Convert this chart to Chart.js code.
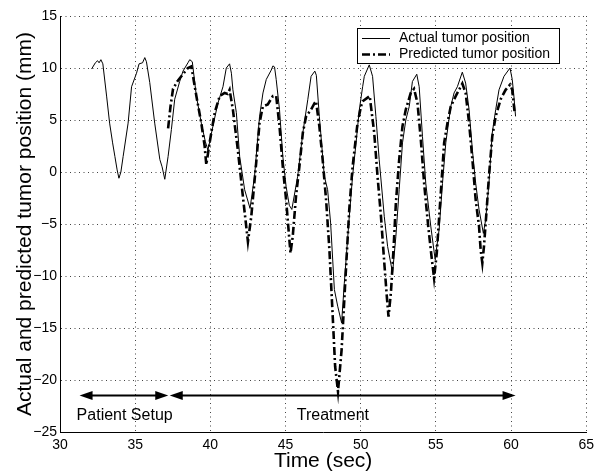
<!DOCTYPE html>
<html>
<head>
<meta charset="utf-8">
<script src="https://cdn.jsdelivr.net/npm/chart.js@4"></script>
<style>
  html, body { margin: 0; padding: 0; background: #fff; }
  #wrap { width: 599px; height: 476px; }
</style>
</head>
<body>
<div id="wrap"><canvas id="tumorChart" width="599" height="476"></canvas></div>
<script>
// Actual tumor position (time in sec, position in mm)
const actualTime = [32.10, 32.35, 32.50, 32.60, 32.72, 32.85, 33.10, 33.30, 33.50, 33.65, 33.80, 33.92, 34.05, 34.20, 34.53, 34.76,
    35.09, 35.26, 35.49, 35.64, 35.75, 35.97, 36.30, 36.64, 36.79, 36.97, 37.19, 37.41, 37.63, 37.96, 38.18, 38.51,
    38.63, 38.80, 39.07, 39.40, 39.67, 39.84, 40.17, 40.50, 40.84, 41.06, 41.28, 41.40, 41.50, 41.73, 41.95, 42.28,
    42.64, 42.94, 43.27, 43.50, 43.72, 44.05, 44.16, 44.27, 44.38, 44.60, 44.82, 45.04, 45.25, 45.42, 45.81, 46.15,
    46.48, 46.70, 46.95, 47.05, 47.25, 47.58, 47.80, 48.00, 48.25, 48.47, 48.73, 48.91, 49.24, 49.46, 49.69, 49.91,
    50.13, 50.24, 50.57, 50.79, 51.01, 51.23, 51.57, 51.79, 52.12, 52.34, 52.56, 52.78, 53.00, 53.23, 53.44, 53.73,
    53.89, 54.11, 54.33, 54.66, 54.95, 55.22, 55.44, 55.66, 55.99, 56.21, 56.43, 56.76, 56.98, 57.21, 57.43, 57.65,
    57.87, 58.16, 58.31, 58.53, 58.75, 58.98, 59.20, 59.53, 59.93, 60.08, 60.19, 60.30];
const actualPos = [9.9, 10.5, 10.7, 10.5, 10.8, 10.4, 7.3, 4.7, 2.8, 1.5, 0.2, -0.6, 0.0, 1.5, 4.7, 8.2,
    9.5, 10.4, 10.5, 11.0, 10.6, 8.6, 4.7, 1.2, 0.5, -0.7, 1.5, 4.1, 7.0, 8.7, 9.7, 10.5,
    10.8, 10.6, 7.3, 4.7, 2.9, 2.1, 4.4, 6.6, 8.2, 10.0, 10.4, 9.5, 7.9, 5.7, 1.5, -1.7,
    -3.5, -0.4, 5.3, 7.6, 8.9, 9.8, 10.2, 10.1, 8.9, 6.0, 1.5, -1.4, -3.2, -3.6, -0.4, 3.75,
    6.95, 9.2, 9.7, 9.3, 5.35, -0.4, -1.7, -4.9, -11.3, -12.9, -14.5, -10.7, -4.3, -0.4, 2.8, 6.0,
    8.2, 9.2, 10.3, 9.2, 5.35, 1.2, -4.3, -7.15, -9.7, -6.2, -1.7, 2.8, 5.0, 6.3, 8.7, 9.4,
    8.2, 3.4, -1.1, -5.2, -8.4, -5.5, -1.1, 2.8, 6.3, 7.6, 8.2, 9.6, 8.55, 6.0, 2.1, -1.1,
    -3.6, -5.9, -4.6, -1.1, 3.75, 6.0, 7.9, 9.2, 10.0, 8.9, 7.3, 5.35];

// Predicted tumor position
const predTime = [37.19, 37.35, 37.52, 37.80, 38.07, 38.51, 38.74, 39.07, 39.40, 39.62, 39.73, 39.95, 40.29, 40.62, 40.95, 41.15,
    41.28, 41.50, 41.83, 42.16, 42.50, 42.72, 43.05, 43.27, 43.49, 43.82, 44.16, 44.38, 44.60, 44.82, 45.04, 45.33,
    45.48, 45.70, 45.92, 46.15, 46.37, 46.70, 46.92, 47.03, 47.25, 47.47, 47.70, 47.92, 48.14, 48.30, 48.49, 48.73,
    48.91, 49.09, 49.24, 49.46, 49.79, 50.02, 50.13, 50.60, 50.90, 51.12, 51.35, 51.57, 51.74, 51.85, 52.01, 52.18,
    52.34, 52.56, 52.78, 53.00, 53.33, 53.55, 53.78, 54.00, 54.22, 54.49, 54.71, 54.88, 55.06, 55.22, 55.37, 55.55,
    55.77, 55.99, 56.32, 56.76, 56.98, 57.21, 57.43, 57.65, 57.87, 57.98, 58.09, 58.20, 58.38, 58.53, 58.75, 58.98,
    59.31, 59.64, 59.93, 60.08, 60.24];
const predPos = [4.2, 6.3, 8.0, 8.7, 9.2, 10.0, 10.15, 7.3, 4.7, 2.5, 0.7, 2.8, 5.7, 7.3, 7.6, 7.5,
    7.9, 6.0, 2.1, -2.3, -6.7, -4.3, 0.9, 4.7, 6.3, 6.5, 7.3, 7.3, 4.4, 0.5, -2.7, -7.8,
    -6.2, -2.3, 0.5, 3.75, 5.35, 6.0, 6.6, 6.8, 4.4, 1.2, -2.7, -7.5, -13.9, -18.7, -21.1, -17.1,
    -12.3, -7.5, -3.6, 0.5, 4.7, 6.3, 6.8, 7.3, 3.75, -0.4, -4.3, -8.75, -12.0, -13.9, -11.6, -7.5,
    -3.0, 1.2, 4.4, 6.0, 7.6, 8.0, 6.6, 3.1, -1.1, -5.2, -8.1, -10.2, -7.8, -4.3, -1.1, 2.8,
    4.7, 6.3, 7.3, 8.5, 7.6, 4.7, 1.2, -2.7, -5.2, -7.5, -8.75, -7.15, -3.6, -0.4, 3.4, 5.35,
    7.0, 7.9, 8.4, 7.9, 5.7];

const seriesLabels = ['Actual tumor position', 'Predicted tumor position'];

// Phase arrows (time spans) and their labels
const phaseNames = ['Patient Setup', 'Treatment'];
const phaseStart = [31.3, 37.3];
const phaseEnd = [37.2, 60.3];
const phaseArrowY = -21.5;
const phaseLabelX = [34.3, 48.15];
const phaseLabelY = -23.4;

const xTicks = [30, 35, 40, 45, 50, 55, 60, 65];
const yTicks = [-25, -20, -15, -10, -5, 0, 5, 10, 15];

const FONT = "'Liberation Sans', Arial, Helvetica, sans-serif";
const predDash = [8, 3, 2, 3];

function toPoints(xs, ys) {
    return xs.map((x, i) => ({ x: x, y: ys[i] }));
}

function arrowHead(ctx, x, y, dir) {
    // dir: -1 points left, 1 points right
    ctx.beginPath();
    ctx.moveTo(x, y);
    ctx.lineTo(x - dir * 13, y - 4.5);
    ctx.lineTo(x - dir * 13, y + 4.5);
    ctx.closePath();
    ctx.fill();
}

const annotationsPlugin = {
    id: 'annotations',
    afterDatasetsDraw(chart) {
        const ctx = chart.ctx;
        const xs = chart.scales.x;
        const ys = chart.scales.y;
        ctx.save();
        ctx.strokeStyle = '#000';
        ctx.fillStyle = '#000';
        ctx.lineWidth = 2;
        const ay = ys.getPixelForValue(phaseArrowY);
        phaseNames.forEach((name, i) => {
            const x1 = xs.getPixelForValue(phaseStart[i]);
            const x2 = xs.getPixelForValue(phaseEnd[i]);
            ctx.beginPath();
            ctx.moveTo(x1 + 6, ay);
            ctx.lineTo(x2 - 6, ay);
            ctx.stroke();
            arrowHead(ctx, x1, ay, -1);
            arrowHead(ctx, x2, ay, 1);

            ctx.font = '16px ' + FONT;
            ctx.textAlign = 'center';
            ctx.textBaseline = 'middle';
            ctx.fillText(name, xs.getPixelForValue(phaseLabelX[i]), ys.getPixelForValue(phaseLabelY));
        });
        ctx.restore();
    },
    afterDraw(chart) {
        // legend box in the upper right
        const ctx = chart.ctx;
        ctx.save();
        const bx = 357, by = 28, bw = 202, bh = 35;
        ctx.fillStyle = '#fff';
        ctx.fillRect(bx, by, bw, bh);
        ctx.strokeStyle = '#000';
        ctx.lineWidth = 1;
        ctx.strokeRect(bx + 0.5, by + 0.5, bw, bh);

        const rows = [38.5, 54.5];
        ctx.font = '14px ' + FONT;
        ctx.textAlign = 'left';
        ctx.textBaseline = 'middle';
        ctx.fillStyle = '#000';
        chart.data.datasets.forEach((ds, i) => {
            ctx.beginPath();
            ctx.lineWidth = ds.borderWidth;
            ctx.setLineDash(ds.borderDash || []);
            ctx.moveTo(362, rows[i]);
            ctx.lineTo(390, rows[i]);
            ctx.stroke();
            ctx.setLineDash([]);
            ctx.fillText(ds.label, 399, rows[i]);
        });
        ctx.restore();
    }
};

new Chart(document.getElementById('tumorChart'), {
    type: 'line',
    data: {
        datasets: [
            {
                label: seriesLabels[0],
                data: toPoints(actualTime, actualPos),
                borderColor: '#000',
                borderWidth: 1,
                pointRadius: 0,
                fill: false,
                tension: 0
            },
            {
                label: seriesLabels[1],
                data: toPoints(predTime, predPos),
                borderColor: '#000',
                borderWidth: 2.6,
                borderDash: predDash,
                pointRadius: 0,
                fill: false,
                tension: 0
            }
        ]
    },
    options: {
        responsive: false,
        animation: false,
        events: [],
        layout: {
            autoPadding: false,
            padding: { top: 16, right: 12, bottom: 0, left: 0 }
        },
        plugins: {
            legend: { display: false },
            tooltip: { enabled: false }
        },
        scales: {
            x: {
                type: 'linear',
                min: 30,
                max: 65,
                afterFit: (scale) => { scale.height = 44; },
                afterBuildTicks: (scale) => { scale.ticks = xTicks.map(v => ({ value: v })); },
                ticks: {
                    color: '#000',
                    font: { family: FONT, size: 14 },
                    padding: 5,
                    maxRotation: 0
                },
                grid: { color: '#444', lineWidth: 1, drawTicks: false },
                border: { display: true, color: '#000', width: 1, dash: [1, 3.5] },
                title: {
                    display: true,
                    text: 'Time (sec)',
                    color: '#000',
                    font: { family: FONT, size: 21 },
                    padding: { top: 0, bottom: 2 }
                }
            },
            y: {
                min: -25,
                max: 15,
                afterFit: (scale) => { scale.width = 60; },
                afterBuildTicks: (scale) => { scale.ticks = yTicks.map(v => ({ value: v })); },
                ticks: {
                    color: '#000',
                    font: { family: FONT, size: 14 },
                    padding: 3,
                    callback: (v) => String(v).replace('-', '\u2212')
                },
                grid: { color: '#444', lineWidth: 1, drawTicks: false },
                border: { display: true, color: '#000', width: 1, dash: [1, 3.5] },
                title: {
                    display: true,
                    text: 'Actual and predicted tumor position (mm)',
                    color: '#000',
                    font: { family: FONT, size: 21 },
                    padding: { top: 13, bottom: 0 }
                }
            }
        }
    },
    plugins: [annotationsPlugin]
});
</script>
</body>
</html>
